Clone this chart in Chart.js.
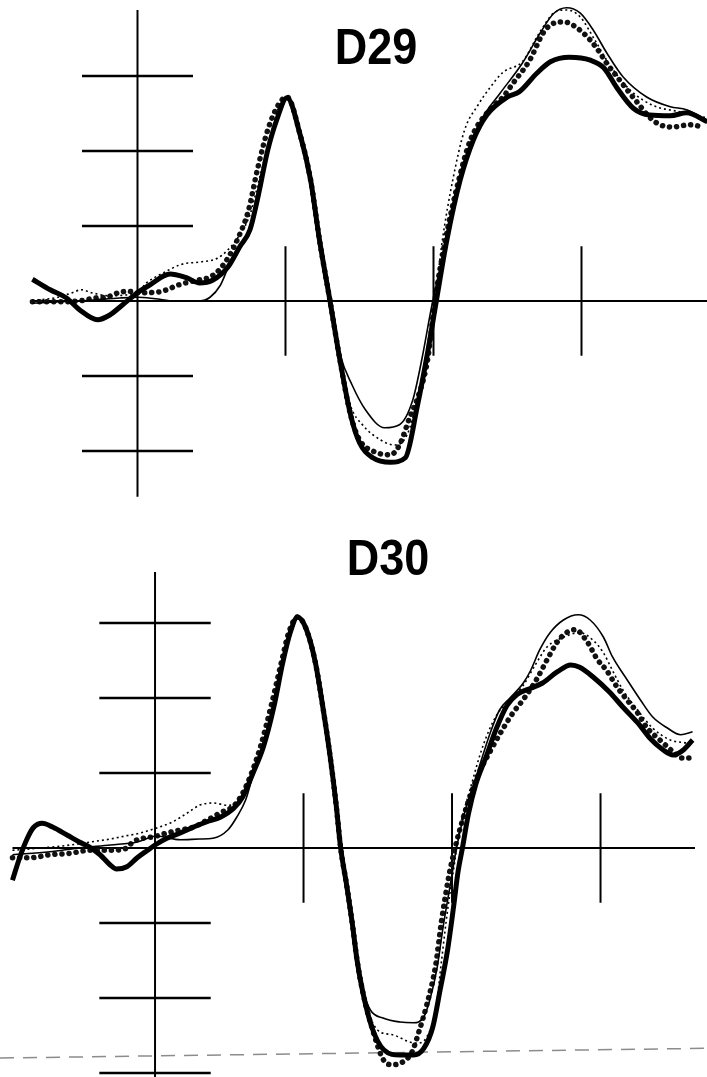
<!DOCTYPE html>
<html>
<head>
<meta charset="utf-8">
<script src="https://cdn.jsdelivr.net/npm/chart.js@4.4.1/dist/chart.umd.min.js"></script>
<style>
  html, body { margin: 0; padding: 0; background: #fff; }
  #wrap { position: relative; width: 707px; height: 1077px; overflow: hidden; background: #fff; }
  canvas { position: absolute; left: 0; }
  #c29 { top: 0; }
  #c30 { top: 520px; }
  .ttl { position: absolute; font-family: "Liberation Sans", Arial, sans-serif; font-weight: bold;
         font-size: 50px; line-height: 50px; color: #000; transform: scaleX(0.9); transform-origin: center; white-space: nowrap; }
</style>
</head>
<body>
<div id="wrap">
  <canvas id="c29" width="707" height="520"></canvas>
  <canvas id="c30" width="707" height="557"></canvas>
  <div class="ttl" id="t29" style="left:330px; top:22px; width:92px; text-align:center;">D29</div>
  <div class="ttl" id="t30" style="left:342px; top:533px; width:92px; text-align:center;">D30</div>
</div>
<script>
// ---------- DATA (x in ms, y in tick units) ----------
const panelTitles = ["D29", "D30"];
const xTicks = [100, 200, 300];
const d29YTicks = [3, 2, 1, -1, -2];
const d30YTicks = [3, 2, 1, -1, -2, -3];

// D29 series
const d29Thick = [[-71,0.29],[-59,0.15],[-48,0.04],[-39,-0.12],[-27,-0.25],[-19,-0.19],[-10,-0.05],[0,0.11],[8,0.21],[22,0.36],[33,0.31],[42,0.24],[51,0.28],[61,0.45],[69,0.72],[76,0.95],[81,1.35],[88,2.01],[94,2.41],[101,2.71],[110,2.21],[117,1.61],[123,0.81],[130,0.01],[137,-0.81],[144,-1.52],[150,-1.89],[159,-2.09],[171,-2.15],[181,-2.09],[189,-1.41],[196,-0.69],[202,0.01],[209,0.81],[218,1.61],[227,2.15],[236,2.48],[250,2.72],[258,2.79],[270,3.04],[279,3.19],[292,3.25],[306,3.21],[315,3.11],[324,2.84],[335,2.57],[346,2.48],[360,2.47],[371,2.51],[385,2.39]];
const d29Thin = [[-71,-0.03],[-52,-0.01],[-32,0.01],[-12,0.04],[0,0.05],[12,0.03],[25,0],[42,0],[49,0.05],[56,0.21],[62,0.48],[69,0.72],[76,0.95],[81,1.35],[88,2.01],[94,2.41],[101,2.71],[110,2.21],[117,1.61],[123,0.81],[130,0.01],[137,-0.72],[145,-1.12],[154,-1.45],[167,-1.69],[177,-1.65],[186,-1.32],[192,-0.79],[199,-0.05],[208,0.75],[217,1.55],[225,2.08],[233,2.44],[245,2.77],[260,3.17],[272,3.57],[281,3.83],[290,3.91],[299,3.84],[308,3.61],[317,3.31],[328,2.99],[344,2.72],[360,2.59],[371,2.55],[385,2.41]];
const d29ThinDot = [[-71,0.01],[-56,0.04],[-44,0.11],[-38,0.15],[-31,0.11],[-19,0.07],[0,0.12],[6,0.24],[17,0.37],[30,0.49],[42,0.52],[54,0.57],[61,0.68],[69,0.88],[76,1.15],[83,1.68],[90,2.21],[96,2.61],[101,2.72],[110,2.21],[117,1.61],[123,0.81],[130,0.01],[137,-0.81],[144,-1.4],[152,-1.65],[164,-1.85],[174,-1.92],[182,-1.79],[189,-1.32],[196,-0.59],[201,0.01],[206,0.81],[213,1.61],[221,2.28],[230,2.61],[238,2.84],[247,3.05],[260,3.19],[272,3.59],[282,3.85],[290,3.88],[299,3.79],[309,3.48],[319,3.15],[333,2.81],[348,2.61],[367,2.52],[385,2.44]];
const d29ThickDot = [[-71,-0.01],[-48,-0.01],[-36,0.01],[-29,0.04],[-21,0.05],[-13,0.11],[-6,0.13],[0,0.11],[14,0.12],[20,0.15],[27,0.21],[41,0.28],[48,0.31],[54,0.39],[61,0.57],[68,0.84],[75,1.21],[81,1.75],[88,2.28],[95,2.61],[101,2.72],[110,2.21],[117,1.61],[123,0.81],[130,0.01],[137,-0.81],[144,-1.52],[150,-1.85],[160,-2.01],[171,-2.05],[177,-1.92],[184,-1.55],[190,-1.25],[196,-0.79],[201,0.01],[208,0.81],[217,1.61],[225,2.15],[238,2.55],[247,2.72],[254,2.91],[265,3.21],[274,3.57],[279,3.68],[286,3.72],[291,3.71],[297,3.64],[304,3.52],[311,3.35],[317,3.17],[324,2.99],[331,2.81],[338,2.64],[346,2.45],[353,2.35],[362,2.32],[373,2.35],[382,2.32]];

// D30 series
const d30Thick = [[-96,-0.43],[-91,-0.12],[-86,0.13],[-82,0.27],[-76,0.33],[-69,0.28],[-59,0.17],[-51,0.08],[-44,0.01],[-37,-0.09],[-30,-0.23],[-26,-0.28],[-19,-0.25],[-12,-0.13],[-5,-0.03],[0,0.04],[8,0.13],[17,0.2],[26,0.28],[35,0.35],[44,0.41],[53,0.53],[59,0.68],[66,1.0],[73,1.35],[80,1.88],[86,2.47],[91,2.87],[96,3.08],[102,2.91],[108,2.47],[113,1.88],[118,1.21],[122,0.57],[125,0],[129,-0.49],[133,-1.03],[136,-1.49],[140,-1.93],[146,-2.39],[154,-2.69],[165,-2.76],[174,-2.76],[181,-2.67],[187,-2.39],[192,-1.89],[197,-1.36],[201,-0.79],[204,-0.32],[207,0],[211,0.45],[216,0.85],[223,1.22],[230,1.6],[237,1.9],[244,2.05],[253,2.13],[261,2.2],[271,2.35],[280,2.44],[286,2.41],[295,2.28],[306,2.08],[315,1.88],[325,1.67],[333,1.47],[342,1.31],[349,1.24],[356,1.31],[362,1.44]];
const d30Thin = [[-96,-0.09],[-71,-0.05],[-51,0],[-30,0.04],[-12,0.08],[1,0.16],[17,0.11],[30,0.12],[39,0.13],[49,0.24],[55,0.41],[61,0.64],[66,0.97],[73,1.35],[80,1.88],[86,2.47],[91,2.87],[96,3.08],[102,2.91],[108,2.47],[113,1.88],[118,1.21],[122,0.57],[125,0],[129,-0.49],[133,-1.03],[136,-1.49],[140,-1.89],[145,-2.16],[154,-2.27],[165,-2.32],[174,-2.33],[181,-2.25],[185,-2.03],[190,-1.59],[194,-1.05],[199,-0.47],[203,0],[209,0.51],[217,1.0],[226,1.55],[232,1.84],[239,2.0],[248,2.2],[253,2.37],[259,2.64],[266,2.87],[275,3.04],[285,3.11],[293,3.04],[302,2.81],[308,2.55],[318,2.24],[327,1.97],[335,1.75],[345,1.6],[354,1.51],[362,1.55]];
const d30ThinDot = [[-96,-0.03],[-77,0],[-57,0.04],[-40,0.09],[-30,0.12],[-20,0.16],[-10,0.2],[3,0.28],[12,0.35],[22,0.47],[30,0.57],[39,0.6],[49,0.57],[55,0.6],[62,0.77],[66,1.0],[73,1.35],[80,1.88],[86,2.47],[91,2.87],[96,3.08],[102,2.91],[108,2.47],[113,1.88],[118,1.21],[122,0.57],[125,0],[129,-0.49],[133,-1.03],[136,-1.49],[140,-1.93],[150,-2.43],[160,-2.49],[172,-2.59],[177,-2.6],[183,-2.52],[189,-2.16],[193,-1.49],[197,-0.83],[202,-0.16],[205,0.24],[212,0.77],[221,1.37],[230,1.77],[239,1.97],[248,2.17],[256,2.44],[264,2.68],[275,2.81],[286,2.87],[295,2.77],[302,2.6],[308,2.37],[315,2.11],[325,1.84],[335,1.6],[347,1.44],[358,1.4]];
const d30ThickDot = [[-96,-0.13],[-84,-0.13],[-71,-0.09],[-57,-0.07],[-44,-0.03],[-30,-0.03],[-19,0],[-15,0.08],[-8,0.13],[-1,0.15],[8,0.2],[17,0.24],[26,0.28],[35,0.37],[44,0.47],[53,0.56],[59,0.73],[65,1.0],[71,1.35],[78,1.88],[85,2.47],[90,2.87],[96,3.08],[102,2.91],[108,2.47],[113,1.88],[118,1.21],[122,0.57],[125,0],[129,-0.49],[133,-1.03],[136,-1.49],[140,-1.93],[146,-2.39],[154,-2.83],[160,-2.89],[167,-2.85],[173,-2.72],[178,-2.43],[183,-2.09],[189,-1.56],[193,-0.96],[198,-0.36],[202,0],[209,0.5],[217,0.95],[226,1.3],[234,1.58],[241,1.8],[248,1.98],[257,2.25],[264,2.51],[271,2.75],[277,2.87],[283,2.91],[291,2.75],[298,2.51],[304,2.37],[311,2.15],[318,1.97],[325,1.8],[331,1.61],[340,1.44],[349,1.28],[354,1.2],[360,1.2]];
const d30Baseline = [[-104.4,-2.8],[371.7,-2.67]];

// ---------- helpers ----------
function pts(arr) { return arr.map(p => ({x: p[0], y: p[1]})); }

function series(thick, thin, thinDot, thickDot) {
  return [
    { data: pts(thick), borderColor: '#000', borderWidth: 5, order: 0 },
    { data: pts(thin), borderColor: '#000', borderWidth: 1.6, order: 1 },
    { data: pts(thinDot), borderColor: '#000', borderWidth: 1.6, borderDash: [2, 3], order: 2 },
    { data: pts(thickDot), borderColor: '#111', borderWidth: 5.5, borderDash: [0.1, 7], borderCapStyle: 'round', order: 3 }
  ].map(d => Object.assign({ cubicInterpolationMode: 'monotone', pointRadius: 0, fill: false, clip: false }, d));
}

function axesPlugin(cfg) {
  return {
    id: 'erpAxes',
    beforeDatasetsDraw(chart) {
      const xs = chart.scales.x, ys = chart.scales.y, ctx = chart.ctx;
      ctx.save();
      ctx.strokeStyle = '#000';
      ctx.lineCap = 'butt';
      const seg = (x1, y1, x2, y2, w) => {
        ctx.lineWidth = w;
        ctx.beginPath();
        ctx.moveTo(xs.getPixelForValue(x1), ys.getPixelForValue(y1));
        ctx.lineTo(xs.getPixelForValue(x2), ys.getPixelForValue(y2));
        ctx.stroke();
      };
      seg(cfg.zeroFrom, 0, cfg.zeroTo, 0, 2);
      seg(0, cfg.axisTop, 0, cfg.axisBottom, 2);
      cfg.yTicks.forEach(v => seg(-cfg.tickHalfW, v, cfg.tickHalfW, v, 2.4));
      cfg.xTicks.forEach(v => seg(v, cfg.tickHalfH, v, -cfg.tickHalfH, 2));
      ctx.restore();
    }
  };
}

function makeChart(id, datasets, xr, yr, axCfg) {
  return new Chart(document.getElementById(id), {
    type: 'line',
    data: { datasets },
    options: {
      responsive: false, animation: false, devicePixelRatio: 1,
      layout: { padding: 0 },
      scales: {
        x: { type: 'linear', min: xr[0], max: xr[1], display: false },
        y: { type: 'linear', min: yr[0], max: yr[1], display: false }
      },
      plugins: { legend: { display: false }, tooltip: { enabled: false }, title: { display: false } }
    },
    plugins: [axesPlugin(axCfg)]
  });
}

// D29 panel
makeChart('c29', series(d29Thick, d29Thin, d29ThinDot, d29ThickDot),
  [-92.9, 384.8], [-2.92, 4.013],
  { zeroFrom: -71, zeroTo: 384.8, axisTop: 3.88, axisBottom: -2.61, yTicks: d29YTicks, xTicks: xTicks, tickHalfW: 37.5, tickHalfH: 0.73 });

// D30 panel
const d30Sets = series(d30Thick, d30Thin, d30ThinDot, d30ThickDot);
d30Sets.push({ data: pts(d30Baseline), borderColor: '#8c8c8c', borderWidth: 1.5, borderDash: [14, 9], pointRadius: 0, fill: false, order: 5, tension: 0 });
makeChart('c30', d30Sets,
  [-104.4, 371.7], [-3.053, 4.373],
  { zeroFrom: -96, zeroTo: 363.6, axisTop: 3.68, axisBottom: -3.06, yTicks: d30YTicks, xTicks: xTicks, tickHalfW: 37.5, tickHalfH: 0.73 });
</script>
</body>
</html>
